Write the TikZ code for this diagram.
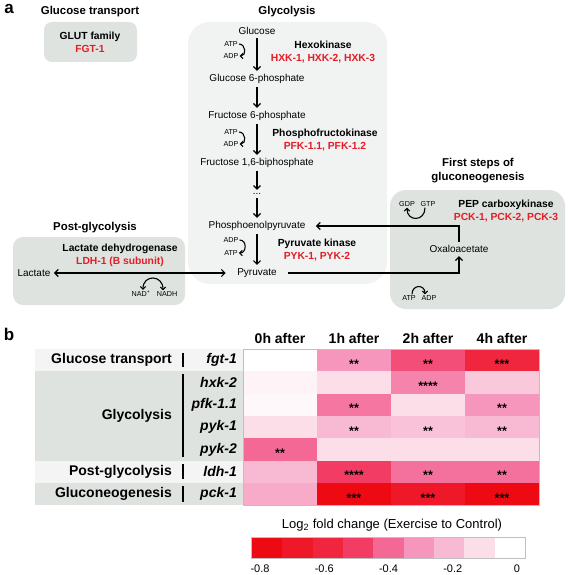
\documentclass[tikz,border=0pt]{standalone}
\usepackage{fontspec}
\setmainfont{Liberation Sans}
\usepackage{xcolor}
\usepackage{tikz}
\usetikzlibrary{arrows.meta,positioning}
\definecolor{enzred}{RGB}{226,30,38}
\definecolor{boxgrey}{RGB}{222,227,224}
\definecolor{boxlight}{RGB}{241,242,242}
\definecolor{rowlight}{RGB}{244,244,244}
\definecolor{lv0}{RGB}{255,255,255}
\definecolor{lv1}{RGB}{252,222,233}
\definecolor{lv2}{RGB}{248,185,210}
\definecolor{lv3}{RGB}{246,150,188}
\definecolor{lv4}{RGB}{244,104,150}
\definecolor{lv5}{RGB}{242,60,100}
\definecolor{lv6}{RGB}{240,38,62}
\definecolor{lv7}{RGB}{239,24,40}
\definecolor{lv8}{RGB}{238,10,18}
\tikzset{metab/.style={font=\fontsize{10}{12}\selectfont},
  cof/.style={font=\fontsize{7.2}{8}\selectfont,inner sep=1pt},
  enz/.style={font=\fontsize{10.3}{13}\selectfont\bfseries,align=center},
  ttl/.style={font=\fontsize{11.4}{14}\selectfont\bfseries,align=center},
  panel/.style={font=\fontsize{17}{17}\selectfont\bfseries},
  grp/.style={font=\fontsize{14}{16}\selectfont\bfseries,anchor=east,inner sep=0pt},
  gene/.style={font=\fontsize{14}{16}\selectfont\bfseries\itshape,anchor=east,inner sep=0pt},
  head/.style={font=\fontsize{14}{16}\selectfont\bfseries},
  cell/.style={minimum width=74pt,minimum height=22.3pt,inner sep=0pt},
  stars/.style={font=\fontsize{12.5}{14}\selectfont\bfseries,anchor=base,inner sep=0pt},
  cbar/.style={minimum width=30.33pt,minimum height=20pt,inner sep=0pt},
  tick/.style={font=\fontsize{11}{12}\selectfont},
  cofarr/.style={->,line width=1.1pt,>={Straight Barb[length=2.6pt,width=5.4pt]}}}

\begin{document}
\begin{tikzpicture}[x=1pt,y=-1pt,>={Straight Barb[length=3.5pt,width=7pt]}]
\useasboundingbox (0,0) rectangle (567,575);

% panel a: boxes
\fill[boxgrey,rounded corners=8pt] (44,22) rectangle (137,62);
\fill[boxlight,rounded corners=22pt] (188,22) rectangle (387,284);
\fill[boxgrey,rounded corners=10pt] (13,237) rectangle (185,305);
\fill[boxgrey,rounded corners=16pt] (390,190) rectangle (565,309);

\node[panel] (a) at (9,9) {a};
\node[ttl] (tglut) at (90,12) {Glucose transport};
\node[enz] (glut) at (90,42.5) {GLUT family\\\textcolor{enzred}{FGT-1}};
\node[ttl] (tgly) at (287,12) {Glycolysis};
\node[ttl] (tpost) at (95,228) {Post-glycolysis};
\node[ttl] (tgng) at (478,171) {First steps of\\gluconeogenesis};

% glycolysis chain
\node[metab] (glc) at (257,31) {Glucose};
\node[metab] (g6p) at (257,79) {Glucose 6-phosphate};
\node[metab] (f6p) at (257,116) {Fructose 6-phosphate};
\node[metab] (f16) at (257,163) {Fructose 1,6-biphosphate};
\node[metab] (dots) at (257,194) {...};
\node[metab] (pep) at (257,226) {Phosphoenolpyruvate};
\node[metab] (pyr) at (257,273) {Pyruvate};
\node[metab] (lac) at (34,273) {Lactate};
\node[metab] (oxa) at (459,249) {Oxaloacetate};

\draw[->,line width=1.2pt] (glc) -- (g6p);
\draw[->,line width=1.2pt] (g6p) -- (f6p);
\draw[->,line width=1.2pt] (f6p) -- (f16);
\draw[->,line width=1.2pt] (f16) -- (dots);
\draw[->,line width=1.2pt] (dots) -- (pep);
\draw[->,line width=1.2pt] (pep) -- (pyr);
\draw[<->,line width=1.2pt,shorten >=8pt] (lac) -- (pyr);
\draw[->,line width=1.2pt,shorten <=8pt] (pyr.east) -| (oxa.south);
\draw[->,line width=1.2pt,shorten >=7pt] (oxa.north) |- (pep.east);

% enzymes
\node[enz] (hxk) at (323,52.5) {Hexokinase\\\textcolor{enzred}{HXK-1, HXK-2, HXK-3}};
\node[enz] (pfk) at (325,140) {Phosphofructokinase\\\textcolor{enzred}{PFK-1.1, PFK-1.2}};
\node[enz] (pyk) at (317,250) {Pyruvate kinase\\\textcolor{enzred}{PYK-1, PYK-2}};
\node[enz] (ldh) at (120,255) {Lactate dehydrogenase\\\textcolor{enzred}{LDH-1 (B subunit)}};
\node[enz] (pck) at (506,211.5) {PEP carboxykinase\\\textcolor{enzred}{PCK-1, PCK-2, PCK-3}};

% cofactors
\node[cof] (atp1) at (231,44) {ATP};
\node[cof] (adp1) at (231,56) {ADP};
\draw[cofarr] (atp1.east) to[out=0,in=0,looseness=1.5] (adp1.east);
\node[cof] (atp2) at (231,132) {ATP};
\node[cof] (adp2) at (231,144) {ADP};
\draw[cofarr] (atp2.east) to[out=0,in=0,looseness=1.5] (adp2.east);
\node[cof] (adp3) at (231,240) {ADP};
\node[cof] (atp3) at (231,253) {ATP};
\draw[cofarr] (adp3.east) to[out=0,in=0,looseness=1.5] (atp3.east);
\node[cof] (nad) at (141,294) {NAD\textsuperscript{+}};
\node[cof] (nadh) at (167,294) {NADH};
\draw[cofarr,<->] ([xshift=2pt]nad.north) to[out=90,in=90,looseness=2] ([xshift=-4pt]nadh.north);
\node[cof] (gdp) at (407,204) {GDP};
\node[cof] (gtp) at (428,204) {GTP};
\draw[cofarr] ([xshift=-3pt]gtp.south) to[out=-90,in=-90,looseness=2] (gdp.south);
\node[cof] (atp4) at (409,298) {ATP};
\node[cof] (adp4) at (429,298) {ADP};
\draw[cofarr] ([xshift=3pt]atp4.north) to[out=90,in=90,looseness=2] ([xshift=-4pt]adp4.north);

% panel b: label column
\node[panel] (b) at (9,334) {b};
\fill[rowlight] (35,349) rectangle (243,371.3);
\fill[boxgrey] (35,371.3) rectangle (243,460.5);
\fill[rowlight] (35,460.5) rectangle (243,482.8);
\fill[boxgrey] (35,482.8) rectangle (243,505);
\draw[line width=1.8pt] (183,353) -- (183,367);
\draw[line width=1.8pt] (183,374) -- (183,457);
\draw[line width=1.8pt] (183,464) -- (183,479);
\draw[line width=1.8pt] (183,486) -- (183,502);
\node[grp] (gtr) at (172,360) {Glucose transport};
\node[grp] (ggly) at (172,416) {Glycolysis};
\node[grp] (gpost) at (172,471.5) {Post-glycolysis};
\node[grp] (ggng) at (172,494) {Gluconeogenesis};
\foreach \g [count=\i] in {fgt-1,hxk-2,pfk-1.1,pyk-1,pyk-2,ldh-1,pck-1}
  \node[gene] (g\i) at (237,338+22.3*\i) {\g};

% heatmap
\foreach \h [count=\k] in {0h,1h,2h,4h}
  \node[head] (h\k) at (206+74*\k,338) {\h\ after};
\foreach \r/\c/\lev/\st in {1/1/lv0/,1/2/lv3/**,1/3/lv5!60!lv4/**,1/4/lv6/***,
    2/1/lv1!35!white/,2/2/lv1/,2/3/lv3!60!lv4/****,2/4/lv2!60!lv1/,
    3/1/lv1!20!white/,3/2/lv4!70!lv3/**,3/3/lv1/,3/4/lv3/**,
    4/1/lv1/,4/2/lv2/**,4/3/lv2!75!lv1/**,4/4/lv2/**,
    5/1/lv4/**,5/2/lv1/,5/3/lv1/,5/4/lv1/,
    6/1/lv2/,6/2/lv5/****,6/3/lv4!80!lv3/**,6/4/lv4!80!lv3/**,
    7/1/lv2!60!lv3/,7/2/lv8/***,7/3/lv7/***,7/4/lv8/***}{
  \node[cell,fill=\lev] (c\r\c) at (206+74*\c,338+22.3*\r) {};
  \node[stars] at ([yshift=-8pt]c\r\c.center) {\st};
}
\draw[black!25,line width=0.8pt] (243,349) rectangle (539,505);

% colour scale
\node[font=\fontsize{13}{15}\selectfont] (ctitle) at (392,525) {Log\textsubscript{2} fold change (Exercise to Control)};
\foreach \lev [count=\k] in {lv8,lv7,lv6,lv5,lv4,lv3,lv2,lv1,lv0}
  \node[cbar,fill=\lev] (s\k) at (252+30.33*\k-15.17,548) {};
\draw[black!25,line width=0.8pt] (s1.north west) rectangle (s9.south east);
\foreach \t [count=\k] in {-0.8,-0.6,-0.4,-0.2,0}
  \node[tick] (t\k) at (260+64.25*\k-64.25,569) {\t};
\end{tikzpicture}
\end{document}
